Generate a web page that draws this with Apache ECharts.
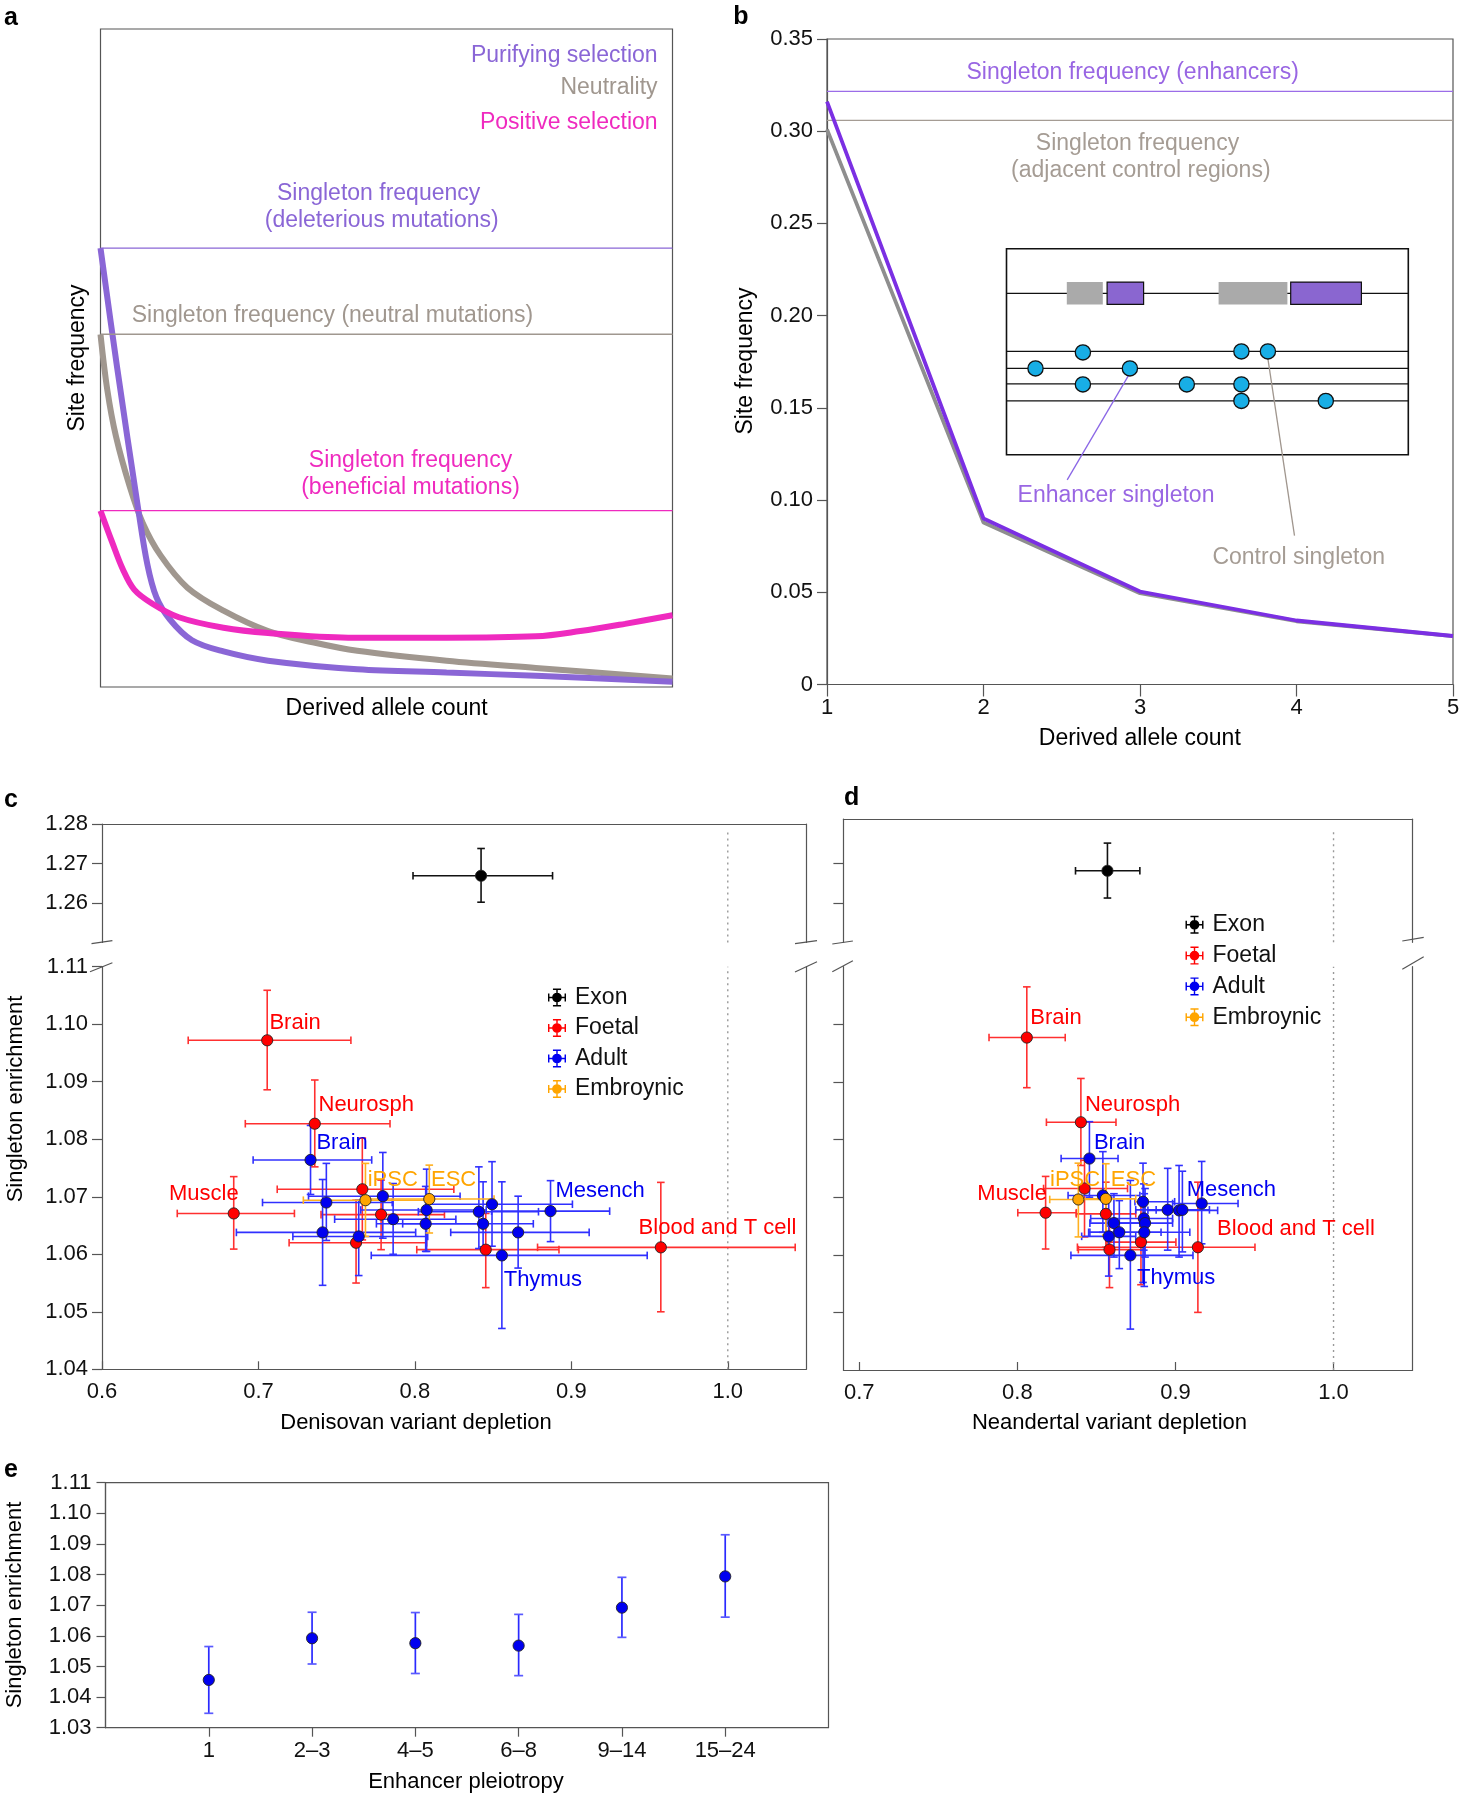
<!DOCTYPE html>
<html>
<head>
<meta charset="utf-8">
<script src="https://cdn.jsdelivr.net/npm/echarts@6/dist/echarts.min.js"></script>
<style>
html, body { margin: 0; padding: 0; background: #fff; }
#chart { width: 1464px; height: 1800px; }
</style>
</head>
<body>
<div id="chart"></div>
<script>
// ---------- panel a : schematic spectra (x, y in % of the frame) ----------
var aPurifying = [[0, 66.7], [2.9, 48.6], [6.6, 27], [8.2, 18.6], [9.75, 13.7], [12.1, 10.3], [16, 7.1], [21.5, 5.4], [29.3, 4.0], [44.9, 2.7], [60.5, 2.2], [76.1, 1.7], [100, 0.8]];
var aNeutral = [[0, 53.6], [1.2, 45.1], [2.7, 38.1], [5.1, 30.5], [7.4, 24.9], [10.5, 20.0], [15.2, 15.1], [21.5, 11.6], [29.3, 8.5], [37.1, 6.8], [44.9, 5.5], [60.5, 4.0], [76.1, 2.9], [100, 1.3]];
var aPositive = [[0, 26.8], [2.0, 22.1], [3.9, 17.9], [5.9, 14.8], [9.0, 12.7], [13.7, 10.6], [21.5, 9.0], [29.3, 8.2], [43.3, 7.5], [60.5, 7.5], [76.1, 7.7], [83.9, 8.5], [91.7, 9.6], [100, 10.9]];
var aSingleton = [66.7, 53.6, 26.8]; // deleterious, neutral, beneficial

// ---------- panel b ----------
var alleleCount = [1, 2, 3, 4, 5];
var enhancerSfs = [0.316, 0.090, 0.0504, 0.0347, 0.0263];
var controlSfs = [0.301, 0.0878, 0.0495, 0.0343, 0.0262];
var enhancerSingleton = 0.3216;
var controlSingleton = 0.3059;

// ---------- panel c : Denisovan  [x, y, xlo, xhi, ylo, yhi] ----------
var denExon = [[0.8423, 1.2669, 0.7988, 0.888, 1.2602, 1.2738]];
var denFoetal = [
  [0.7056, 1.0972, 0.6551, 0.7591, 1.0886, 1.1059],
  [0.736, 1.0827, 0.6916, 0.7841, 1.0752, 1.0903],
  [0.6842, 1.0671, 0.6481, 0.723, 1.0609, 1.0735],
  [0.7664, 1.0713, 0.712, 0.8249, 1.0625, 1.0802],
  [0.7784, 1.0669, 0.74, 0.8189, 1.0608, 1.0729],
  [0.7624, 1.062, 0.7196, 0.8075, 1.055, 1.0694],
  [0.8453, 1.0608, 0.8012, 0.8921, 1.0542, 1.0671],
  [0.9572, 1.0612, 0.8784, 1.0431, 1.05, 1.0725]
];
var denAdult = [
  [0.7333, 1.0764, 0.6966, 0.7724, 1.0704, 1.0824],
  [0.7434, 1.069, 0.7026, 0.7855, 1.0624, 1.0758],
  [0.741, 1.0638, 0.6859, 0.8005, 1.0546, 1.073],
  [0.7641, 1.0631, 0.722, 0.8082, 1.0563, 1.0694],
  [0.7795, 1.0701, 0.732, 0.8289, 1.0628, 1.0777],
  [0.7861, 1.0661, 0.7487, 0.8262, 1.06, 1.0723],
  [0.8075, 1.0677, 0.7654, 0.8456, 1.0605, 1.0748],
  [0.8069, 1.0653, 0.7754, 0.8416, 1.0605, 1.0718],
  [0.8409, 1.0674, 0.8022, 0.879, 1.061, 1.0752],
  [0.8493, 1.0687, 0.8072, 0.9007, 1.0614, 1.0761],
  [0.8436, 1.0653, 0.7922, 0.8757, 1.0613, 1.0726],
  [0.866, 1.0638, 0.8229, 0.9114, 1.0576, 1.0701],
  [0.8867, 1.0675, 0.849, 0.9245, 1.0622, 1.0728],
  [0.8556, 1.0598, 0.7721, 0.9485, 1.0471, 1.0726]
];
var denEmbryonic = [
  [0.7684, 1.0694, 0.7287, 0.808, 1.0631, 1.0758],
  [0.8092, 1.0696, 0.77, 0.8506, 1.0637, 1.0755]
];

// ---------- panel d : Neandertal ----------
var neaExon = [[0.857, 1.2681, 0.8368, 0.8775, 1.2612, 1.2751]];
var neaFoetal = [
  [0.806, 1.0977, 0.7821, 0.8303, 1.089, 1.1065],
  [0.8402, 1.083, 0.8184, 0.8624, 1.0755, 1.0906],
  [0.8179, 1.0673, 0.8003, 0.8373, 1.061, 1.0736],
  [0.8425, 1.0715, 0.8166, 0.8697, 1.0631, 1.0764],
  [0.856, 1.0671, 0.8373, 0.8749, 1.0613, 1.0726],
  [0.8583, 1.0609, 0.8386, 0.88, 1.0543, 1.0671],
  [0.8782, 1.0622, 0.8567, 0.9003, 1.0548, 1.0689],
  [0.9142, 1.0613, 0.838, 0.9503, 1.05, 1.0726]
];
var neaAdult = [
  [0.8456, 1.0767, 0.8277, 0.8637, 1.07, 1.0831],
  [0.8541, 1.0703, 0.8321, 0.8775, 1.0639, 1.0779],
  [0.8611, 1.0655, 0.8459, 0.8775, 1.0596, 1.0706],
  [0.8645, 1.0639, 0.8451, 0.8909, 1.0576, 1.0694],
  [0.8578, 1.0632, 0.8407, 0.8749, 1.0563, 1.07],
  [0.8795, 1.0692, 0.8744, 0.8995, 1.0552, 1.0759],
  [0.88, 1.0663, 0.8464, 0.8982, 1.0608, 1.0723],
  [0.8808, 1.0655, 0.8567, 0.8982, 1.0596, 1.0715],
  [0.8803, 1.0639, 0.8459, 0.9091, 1.0545, 1.0706],
  [0.8951, 1.0678, 0.8749, 0.906, 1.0608, 1.075],
  [0.9023, 1.0677, 0.8826, 0.9267, 1.0596, 1.0755],
  [0.9044, 1.0678, 0.8878, 0.9215, 1.0605, 1.0745],
  [0.9166, 1.0689, 0.8982, 0.9396, 1.0619, 1.0762],
  [0.8715, 1.0599, 0.8339, 0.9111, 1.0471, 1.0729]
];
var neaEmbryonic = [
  [0.8386, 1.0696, 0.8205, 0.857, 1.0631, 1.0759],
  [0.856, 1.0697, 0.8412, 0.8749, 1.0634, 1.0758]
];
var neutralDepletion = 1.0;

// ---------- panel e ----------
var pleioCats = ['1', '2\u20133', '4\u20135', '6\u20138', '9\u201314', '15\u201324'];
var pleioMean = [1.0456, 1.0592, 1.0576, 1.0568, 1.0692, 1.0794];
var pleioLo = [1.0347, 1.0508, 1.0477, 1.047, 1.0595, 1.0661];
var pleioHi = [1.0565, 1.0677, 1.0676, 1.067, 1.0791, 1.093];

var groupNames = ['Exon', 'Foetal', 'Adult', 'Embroynic'];

var FONT = "'Liberation Sans', Arial, Helvetica, sans-serif";
var AX = '#555';

function range(a, b, step) {
  var out = [];
  for (var v = a; v <= b + 1e-9; v += step) out.push(Math.round(v * 1000) / 1000);
  return out;
}

function errSeries(name, data, xi, yi, barCol, dotCol, cap) {
  return [{
    type: 'custom', name: name, xAxisIndex: xi, yAxisIndex: yi, z: 2, clip: false,
    itemStyle: { color: dotCol },
    encode: { x: [0, 2, 3], y: [1, 4, 5] },
    data: data,
    renderItem: function (params, api) {
      var x = api.value(0), y = api.value(1);
      var p = api.coord([x, y]);
      var xl = api.coord([api.value(2), y])[0];
      var xh = api.coord([api.value(3), y])[0];
      var yl = api.coord([x, api.value(4)])[1];
      var yh = api.coord([x, api.value(5)])[1];
      var st = { stroke: barCol, lineWidth: 1.6 };
      var ln = function (x1, y1, x2, y2) {
        return { type: 'line', shape: { x1: x1, y1: y1, x2: x2, y2: y2 }, style: st };
      };
      return { type: 'group', children: [
        ln(xl, p[1], xh, p[1]), ln(p[0], yl, p[0], yh),
        ln(xl, p[1] - cap, xl, p[1] + cap), ln(xh, p[1] - cap, xh, p[1] + cap),
        ln(p[0] - cap, yl, p[0] + cap, yl), ln(p[0] - cap, yh, p[0] + cap, yh)
      ] };
    }
  }, {
    type: 'custom', name: name, xAxisIndex: xi, yAxisIndex: yi, z: 3, clip: false,
    itemStyle: { color: dotCol },
    encode: { x: 0, y: 1 },
    data: data,
    renderItem: function (params, api) {
      var p = api.coord([api.value(0), api.value(1)]);
      return { type: 'circle', shape: { cx: p[0], cy: p[1], r: 5.6 },
        style: { fill: dotCol, stroke: '#222', lineWidth: 0.9 } };
    }
  }];
}

function refLine(xi, yi, y0, y1) {
  return { type: 'line', xAxisIndex: xi, yAxisIndex: yi, silent: true, symbol: 'none', z: 1,
    data: [[neutralDepletion, y0], [neutralDepletion, y1]],
    lineStyle: { color: '#999', width: 1.4, type: [2, 4] } };
}

function hLine(xi, yi, x0, x1, v, col, w) {
  return { type: 'line', xAxisIndex: xi, yAxisIndex: yi, silent: true, symbol: 'none',
    data: [[x0, v], [x1, v]], lineStyle: { color: col, width: w } };
}

function curve(data, col) {
  return { type: 'line', xAxisIndex: 0, yAxisIndex: 0, symbol: 'none', smooth: 0.35,
    data: data, lineStyle: { color: col, width: 6 }, z: 3 };
}

function T(x, y, s, col, o) {
  o = o || {};
  return { type: 'text', x: x, y: y, rotation: o.rot || 0, z: 100,
    style: { text: s, fill: col, fontSize: o.size || 22, fontFamily: FONT, fontWeight: o.bold ? 'bold' : 'normal',
      align: o.align || 'center', verticalAlign: 'middle' } };
}
function L(x1, y1, x2, y2, col, w) {
  return { type: 'line', z: 100, shape: { x1: x1, y1: y1, x2: x2, y2: y2 }, style: { stroke: col, lineWidth: w || 1.3 } };
}

var purpleA = '#8a66d6', grayA = '#a0978f', magA = '#ef2abf';
var purpleB = '#7b2fe3', grayB = '#8e8e8e', purpleBt = '#9966e3', grayBt = '#a59c94';
var RED = '#ff0000', BLUE = '#0000f0', ORANGE = '#ffa500';
var S23 = { size: 23 };
function o23(extra) { var o = { size: 23 }; for (var k in extra) o[k] = extra[k]; return o; }

var legendIcon = 'path://M0,9.2H20V10.8H0Z M9.2,0H10.8V20H9.2Z M0,5.5H1.6V14.5H0Z M18.4,5.5H20V14.5H18.4Z M5.5,0H14.5V1.6H5.5Z M5.5,18.4H14.5V20H5.5Z M10,4.6A5.4,5.4 0 1,1 9.99,4.6Z';

function valAxis(grid, min, max, extra) {
  var a = { type: 'value', gridIndex: grid, min: min, max: max, splitLine: { show: false },
    axisLine: { show: true, onZero: false, lineStyle: { color: AX, width: 1.2 } },
    axisTick: { show: false }, axisLabel: { show: false } };
  for (var k in extra) a[k] = extra[k];
  return a;
}
var lab = function (fmt, custom, margin) {
  var o = { show: true, color: '#111', fontSize: 22, fontFamily: FONT, margin: margin || 14, formatter: fmt };
  if (custom) o.customValues = custom;
  return o;
};
var tick = function (len, inside, custom) {
  var o = { show: true, length: len, inside: !!inside, lineStyle: { color: AX, width: 1.2 } };
  if (custom) o.customValues = custom;
  return o;
};

var graphics = [
  // panel a
  T(11, 18, 'a', '#000', { bold: true, size: 25 }),
  T(657.6, 55.6, 'Purifying selection', purpleA, o23({ align: 'right' })),
  T(657.6, 87.2, 'Neutrality', grayA, o23({ align: 'right' })),
  T(657.6, 122.2, 'Positive selection', magA, o23({ align: 'right' })),
  T(378.6, 193.3, 'Singleton frequency', purpleA, S23),
  T(381.7, 220.8, '(deleterious mutations)', purpleA, S23),
  T(131.7, 315.9, 'Singleton frequency (neutral mutations)', grayA, o23({ align: 'left' })),
  T(410.5, 460.5, 'Singleton frequency', magA, S23),
  T(410.5, 488, '(beneficial mutations)', magA, S23),
  T(78, 358, 'Site frequency', '#000', o23({ rot: Math.PI / 2 })),
  T(386.6, 709, 'Derived allele count', '#000', S23),
  // panel b
  T(741, 17, 'b', '#000', { bold: true, size: 25 }),
  T(1132.7, 72.7, 'Singleton frequency (enhancers)', purpleBt, S23),
  T(1137.5, 144, 'Singleton frequency', grayBt, S23),
  T(1140.8, 170.6, '(adjacent control regions)', grayBt, S23),
  T(746, 361, 'Site frequency', '#000', o23({ rot: Math.PI / 2 })),
  T(1139.8, 739, 'Derived allele count', '#000', S23),
  // inset schematic
  { type: 'rect', z: 90, shape: { x: 1006.5, y: 248.7, width: 401.8, height: 206 }, style: { fill: '#fff', stroke: '#111', lineWidth: 1.6 } },
  L(1006.5, 293.3, 1408.3, 293.3, '#111', 1.3),
  L(1006.5, 351.4, 1408.3, 351.4, '#111', 1.3),
  L(1006.5, 368.4, 1408.3, 368.4, '#111', 1.3),
  L(1006.5, 383.9, 1408.3, 383.9, '#111', 1.3),
  L(1006.5, 400.9, 1408.3, 400.9, '#111', 1.3),
  { type: 'rect', z: 100, shape: { x: 1066.8, y: 282.1, width: 36, height: 22.3 }, style: { fill: '#aaaaaa' } },
  { type: 'rect', z: 100, shape: { x: 1107.1, y: 282.1, width: 36.5, height: 22.3 }, style: { fill: '#8a66d0', stroke: '#111', lineWidth: 1.2 } },
  { type: 'rect', z: 100, shape: { x: 1218.6, y: 282.1, width: 68.8, height: 22.3 }, style: { fill: '#aaaaaa' } },
  { type: 'rect', z: 100, shape: { x: 1290.7, y: 282.1, width: 70.7, height: 22.3 }, style: { fill: '#8a66d0', stroke: '#111', lineWidth: 1.2 } },
  L(1129.9, 373.2, 1067.2, 479.9, '#8a66e6', 1.3),
  L(1267.9, 358.7, 1294.5, 535.6, '#a0968e', 1.3),
  T(1116, 495.4, 'Enhancer singleton', purpleBt, S23),
  T(1298.7, 557.4, 'Control singleton', grayBt, S23),
  // panel c
  T(11, 800, 'c', '#000', { bold: true, size: 25 }),
  T(15.7, 1099, 'Singleton enrichment', '#000', { rot: Math.PI / 2 }),
  T(416, 1423, 'Denisovan variant depletion', '#000'),
  T(269.4, 1023.3, 'Brain', RED, { align: 'left' }),
  T(318.5, 1105, 'Neurosph', RED, { align: 'left' }),
  T(316.4, 1142.7, 'Brain', BLUE, { align: 'left' }),
  T(367.7, 1180, 'iPSC', ORANGE, { align: 'left' }),
  T(431, 1180, 'ESC', ORANGE, { align: 'left' }),
  T(169, 1194.3, 'Muscle', RED, { align: 'left' }),
  T(555.4, 1191, 'Mesench', BLUE, { align: 'left' }),
  T(638.6, 1228.3, 'Blood and T cell', RED, { align: 'left' }),
  T(503.7, 1280, 'Thymus', BLUE, { align: 'left' }),
  L(91.5, 943.7, 112.4, 940.7, AX, 1.2), L(90, 971.7, 112.4, 962.7, AX, 1.2),
  L(795, 943.7, 817, 940.7, AX, 1.2), L(795, 972, 817, 961.7, AX, 1.2),
  // panel d
  T(851.6, 798, 'd', '#000', { bold: true, size: 25 }),
  T(1109.5, 1423.3, 'Neandertal variant depletion', '#000'),
  T(1030.3, 1018.3, 'Brain', RED, { align: 'left' }),
  T(1084.9, 1105, 'Neurosph', RED, { align: 'left' }),
  T(1093.9, 1142.7, 'Brain', BLUE, { align: 'left' }),
  T(1050, 1180, 'iPSC', ORANGE, { align: 'left' }),
  T(1110.8, 1180, 'ESC', ORANGE, { align: 'left' }),
  T(977.3, 1194.3, 'Muscle', RED, { align: 'left' }),
  T(1186.7, 1190, 'Mesench', BLUE, { align: 'left' }),
  T(1217.1, 1229.3, 'Blood and T cell', RED, { align: 'left' }),
  T(1137, 1277.7, 'Thymus', BLUE, { align: 'left' }),
  L(832.3, 944, 852.9, 941, AX, 1.2), L(832.3, 971.7, 852.9, 960.7, AX, 1.2),
  L(1402.3, 941, 1423.7, 937.3, AX, 1.2), L(1402.3, 969.3, 1423.7, 956.7, AX, 1.2),
  // panel e
  T(11, 1470, 'e', '#000', { bold: true, size: 25 }),
  T(14.5, 1605, 'Singleton enrichment', '#000', { rot: Math.PI / 2 }),
  T(466, 1781.7, 'Enhancer pleiotropy', '#000')
];
// inset variant circles
[[1082.9, 352.4], [1241.4, 351.4], [1267.9, 351.4], [1035.5, 368.4], [1129.9, 368.4],
 [1082.9, 384.4], [1186.8, 384.4], [1241.4, 384.4], [1241.4, 400.9], [1325.8, 400.9]].forEach(function (c) {
  graphics.push({ type: 'circle', z: 101, shape: { cx: c[0], cy: c[1], r: 7.6 }, style: { fill: '#18aee6', stroke: '#111', lineWidth: 1.3 } });
});

var chart = echarts.init(document.getElementById('chart'), null, { renderer: 'canvas' });

var series = [
  curve(aNeutral, grayA), curve(aPurifying, purpleA), curve(aPositive, magA),
  hLine(0, 0, 0, 100, aSingleton[0], purpleA, 1.3),
  hLine(0, 0, 0, 100, aSingleton[1], grayA, 1.5),
  hLine(0, 0, 0, 100, aSingleton[2], magA, 1.3),
  hLine(1, 1, 1, 5, enhancerSingleton, '#9b6de8', 1.4),
  hLine(1, 1, 1, 5, controlSingleton, grayBt, 1.4),
  { type: 'line', xAxisIndex: 1, yAxisIndex: 1, symbol: 'none', silent: true,
    data: alleleCount.map(function (c, i) { return [c, controlSfs[i]]; }),
    lineStyle: { color: grayB, width: 3.8 } },
  { type: 'line', xAxisIndex: 1, yAxisIndex: 1, symbol: 'none', silent: true,
    data: alleleCount.map(function (c, i) { return [c, enhancerSfs[i]]; }),
    lineStyle: { color: purpleB, width: 3.8 } },
  refLine(2, 2, 1.25, 1.2785), refLine(3, 3, 1.04, 1.11),
  refLine(4, 4, 1.25, 1.2785), refLine(5, 5, 1.04, 1.11),
  {
    type: 'custom', name: 'pleiotropy', xAxisIndex: 6, yAxisIndex: 6, z: 3,
    encode: { x: 0, y: [1, 2, 3] },
    data: pleioCats.map(function (c, i) { return [i + 1, pleioMean[i], pleioLo[i], pleioHi[i]]; }),
    renderItem: function (params, api) {
      var p = api.coord([api.value(0), api.value(1)]);
      var lo = api.coord([api.value(0), api.value(2)])[1];
      var hi = api.coord([api.value(0), api.value(3)])[1];
      var st = { stroke: '#2a2aff', lineWidth: 1.7 };
      var cs = { stroke: '#5a5aff', lineWidth: 1.7 };
      return { type: 'group', children: [
        { type: 'line', shape: { x1: p[0], y1: lo, x2: p[0], y2: hi }, style: st },
        { type: 'line', shape: { x1: p[0] - 4.5, y1: lo, x2: p[0] + 4.5, y2: lo }, style: cs },
        { type: 'line', shape: { x1: p[0] - 4.5, y1: hi, x2: p[0] + 4.5, y2: hi }, style: cs },
        { type: 'circle', shape: { cx: p[0], cy: p[1], r: 5.6 }, style: { fill: '#0000f0', stroke: '#222', lineWidth: 0.9 } }
      ] };
    }
  }
];
series = series.concat(
  errSeries('Exon', denExon, 2, 2, '#111', '#000', 3.8),
  errSeries('Foetal', denFoetal, 3, 3, '#ff3030', RED, 3.8),
  errSeries('Adult', denAdult, 3, 3, '#3030ff', BLUE, 3.8),
  errSeries('Embroynic', denEmbryonic, 3, 3, '#ffb020', ORANGE, 3.8),
  errSeries('Exon', neaExon, 4, 4, '#111', '#000', 3.8),
  errSeries('Foetal', neaFoetal, 5, 5, '#ff3030', RED, 3.8),
  errSeries('Adult', neaAdult, 5, 5, '#3030ff', BLUE, 3.8),
  errSeries('Embroynic', neaEmbryonic, 5, 5, '#ffb020', ORANGE, 3.8)
);

var legendText = { fontSize: 23, color: '#111', fontFamily: FONT, lineHeight: 18, padding: [0, 0, 0, 4] };

var option = {
  animation: false,
  backgroundColor: '#fff',
  textStyle: { fontFamily: FONT },
  grid: [
    { left: 100.5, top: 29, width: 572, height: 658, show: true, borderColor: AX, borderWidth: 1.2, outerBoundsMode: 'none' },
    { left: 827, top: 39, width: 626, height: 645.5, show: true, borderColor: AX, borderWidth: 1.2, outerBoundsMode: 'none' },
    { left: 102, top: 824, width: 704, height: 118.5, outerBoundsMode: 'none' },
    { left: 102, top: 966.7, width: 704, height: 402.6, outerBoundsMode: 'none' },
    { left: 843.4, top: 819, width: 569.2, height: 123.3, outerBoundsMode: 'none' },
    { left: 843.4, top: 966.7, width: 569.2, height: 403.3, outerBoundsMode: 'none' },
    { left: 105.5, top: 1482.7, width: 723, height: 245, show: true, borderColor: AX, borderWidth: 1.2, outerBoundsMode: 'none' }
  ],
  xAxis: [
    { type: 'value', gridIndex: 0, min: 0, max: 100, show: false },
    valAxis(1, 1, 5, { interval: 1, axisTick: tick(12), axisLabel: lab(function (v) { return String(v); }, null, 12) }),
    valAxis(2, 0.6, 1.05, { position: 'top' }),
    valAxis(3, 0.6, 1.05, { interval: 0.1, axisTick: tick(8, true, [0.6, 0.7, 0.8, 0.9, 1.0]),
      axisLabel: lab(function (v) { return v.toFixed(1); }, [0.6, 0.7, 0.8, 0.9, 1.0], 12) }),
    valAxis(4, 0.69, 1.05, { position: 'top' }),
    valAxis(5, 0.69, 1.05, { axisTick: tick(8, true, [0.7, 0.8, 0.9, 1.0]),
      axisLabel: lab(function (v) { return v.toFixed(1); }, [0.7, 0.8, 0.9, 1.0], 12) }),
    valAxis(6, 0, 7, { interval: 1, axisTick: tick(9, false, [1, 2, 3, 4, 5, 6]),
      axisLabel: lab(function (v) { return pleioCats[Math.round(v) - 1] || ''; }, [1, 2, 3, 4, 5, 6], 12) })
  ],
  yAxis: [
    { type: 'value', gridIndex: 0, min: 0, max: 100, show: false },
    valAxis(1, 0, 0.35, { interval: 0.05, axisTick: tick(10), axisLabel: lab(function (v) { return v === 0 ? '0' : v.toFixed(2); }) }),
    valAxis(2, 1.25, 1.28, { axisTick: tick(10, false, [1.26, 1.27, 1.28]),
      axisLabel: lab(function (v) { return v.toFixed(2); }, [1.26, 1.27, 1.28]) }),
    valAxis(3, 1.04, 1.11, { interval: 0.01, axisTick: tick(10, false, range(1.04, 1.11, 0.01)),
      axisLabel: lab(function (v) { return v.toFixed(2); }, range(1.04, 1.11, 0.01)) }),
    valAxis(4, 1.25, 1.2812, { axisTick: tick(10, false, [1.26, 1.27]) }),
    valAxis(5, 1.04, 1.11, { axisTick: tick(10, false, [1.05, 1.06, 1.07, 1.08, 1.09, 1.10]) }),
    valAxis(6, 1.03, 1.11, { interval: 0.01, axisTick: tick(9, false, range(1.03, 1.11, 0.01)),
      axisLabel: lab(function (v) { return v.toFixed(2); }, range(1.03, 1.11, 0.01)) }),
    valAxis(2, 0, 1, { position: 'right' }),
    valAxis(3, 0, 1, { position: 'right' }),
    valAxis(4, 0, 1, { position: 'right' }),
    valAxis(5, 0, 1, { position: 'right' })
  ],
  legend: [
    { data: groupNames, orient: 'vertical', left: 548, top: 986, itemWidth: 18, itemHeight: 18, itemGap: 7.5,
      icon: legendIcon, selectedMode: false, padding: 0, textStyle: legendText },
    { data: groupNames, orient: 'vertical', left: 1185.5, top: 913.3, itemWidth: 18, itemHeight: 18, itemGap: 7.8,
      icon: legendIcon, selectedMode: false, padding: 0, textStyle: legendText }
  ],
  series: series,
  graphic: graphics
};
chart.setOption(option);
</script>
</body>
</html>
